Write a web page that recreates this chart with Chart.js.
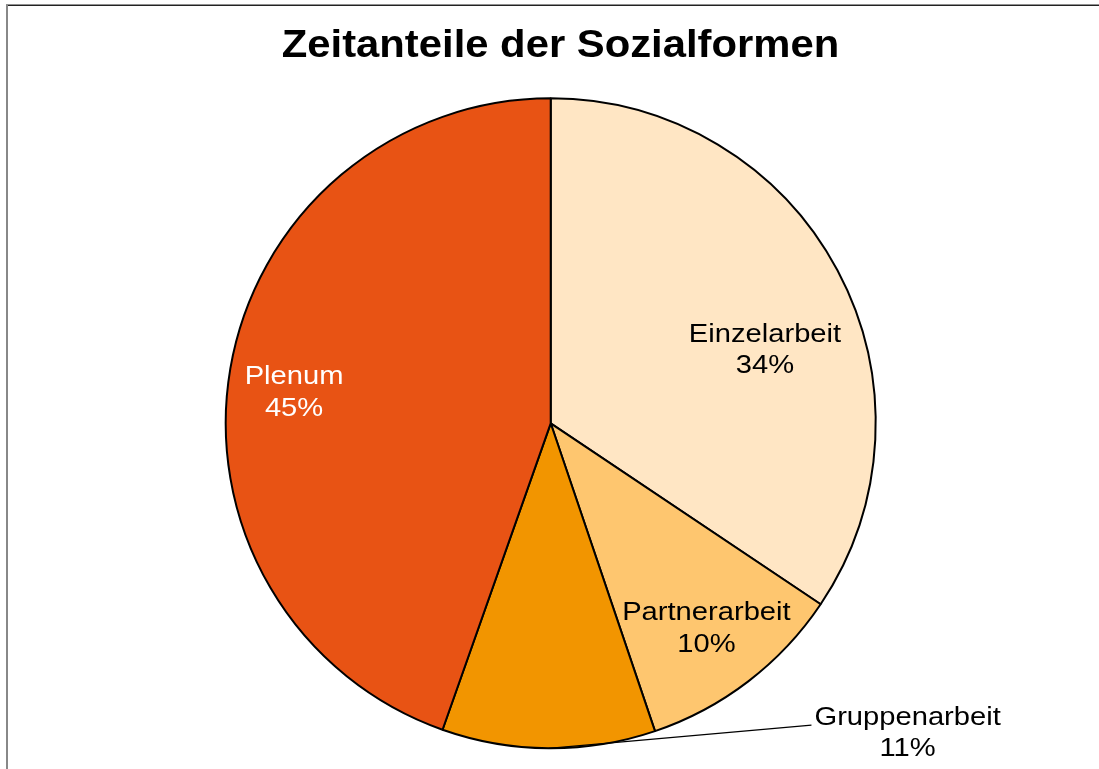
<!DOCTYPE html>
<html>
<head>
<meta charset="utf-8">
<script src="https://cdn.jsdelivr.net/npm/chart.js@4/dist/chart.umd.min.js"></script>
<style>
  html, body { margin: 0; padding: 0; background: #ffffff; }
  #wrap { width: 1099px; height: 769px; }
</style>
</head>
<body>
<div id="wrap"><canvas id="c" width="1099" height="769"></canvas></div>
<script>
// ---- data ----
const chartTitle = "Zeitanteile der Sozialformen";
const categories = ["Einzelarbeit", "Partnerarbeit", "Gruppenarbeit", "Plenum"];
const shares = [34.4, 10.4, 10.6, 44.6];

// ---- styles ----
const sliceColors = ["#FFE6C4", "#FEC66F", "#F29500", "#E85314"];
const labelColors = ["#000000", "#000000", "#000000", "#FFFFFF"];
// label placement relative to each slice: fraction of radius, angular shift (deg), leader line
const labelPlacement = [
  { r: 0.699, shift: 8.7, leader: false },
  { r: 0.788, shift: 0, leader: false },
  { r: 1.450, shift: -49.6, leader: true },
  { r: 0.796, shift: -2.5, leader: false }
];
const FONT = '"Liberation Sans", Arial, Helvetica, sans-serif';
const textStretch = 1.1;

const frame = {
  id: 'frame',
  beforeDraw(chart) {
    const ctx = chart.ctx;
    ctx.save();
    ctx.fillStyle = '#ffffff';
    ctx.fillRect(0, 0, chart.width, chart.height);
    ctx.fillStyle = '#222222';
    ctx.fillRect(6, 4.5, chart.width - 6, 1.5);
    ctx.fillStyle = '#888888';
    ctx.fillRect(6, 5, 2, chart.height - 5);
    ctx.restore();
  }
};

function stretchedText(ctx, text, x, y, sx) {
  ctx.save();
  ctx.translate(x, y);
  ctx.scale(sx, 1);
  ctx.fillText(text, 0, 0);
  ctx.restore();
}

const labelsPlugin = {
  id: 'sliceLabels',
  afterDatasetsDraw(chart) {
    const ctx = chart.ctx;
    const meta = chart.getDatasetMeta(0);
    const data = chart.data.datasets[0].data;
    const total = data.reduce((a, b) => a + b, 0);
    // title
    ctx.save();
    ctx.fillStyle = '#000000';
    ctx.font = 'bold 38px ' + FONT;
    ctx.textAlign = 'center';
    ctx.textBaseline = 'alphabetic';
    stretchedText(ctx, chartTitle, 560.5, 57.3, textStretch);
    ctx.restore();

    const size = 26.5;
    const cap = 0.716 * size;
    const lineGap = 31.6;
    meta.data.forEach((arc, i) => {
      const p = arc.getProps(['x', 'y', 'startAngle', 'endAngle', 'outerRadius'], true);
      const mid = (p.startAngle + p.endAngle) / 2;
      const pl = labelPlacement[i];
      const ang = mid + pl.shift * Math.PI / 180;
      const cx = p.x + Math.cos(ang) * p.outerRadius * pl.r;
      const cy = p.y + Math.sin(ang) * p.outerRadius * pl.r;
      const pct = Math.round(data[i] / total * 100) + '%';
      const line1 = chart.data.labels[i];
      const block = cap + lineGap;
      const b1 = cy - block / 2 + cap;
      const b2 = cy + block / 2;
      ctx.save();
      ctx.font = size + 'px ' + FONT;
      ctx.textAlign = 'center';
      ctx.textBaseline = 'alphabetic';
      ctx.fillStyle = labelColors[i];
      if (pl.leader) {
        const w = ctx.measureText(line1).width * textStretch;
        const sx = p.x + Math.cos(mid) * p.outerRadius;
        const sy = p.y + Math.sin(mid) * p.outerRadius;
        ctx.strokeStyle = '#000000';
        ctx.lineWidth = 1.2;
        ctx.beginPath();
        ctx.moveTo(sx, sy);
        ctx.lineTo(cx - w / 2 - 3, b1 + 0.5);
        ctx.stroke();
      }
      stretchedText(ctx, line1, cx, b1, textStretch);
      stretchedText(ctx, pct, cx, b2, textStretch);
      ctx.restore();
    });
  }
};

new Chart(document.getElementById('c'), {
  type: 'pie',
  data: {
    labels: categories,
    datasets: [{
      data: shares,
      backgroundColor: sliceColors,
      borderColor: '#000000',
      borderWidth: 2,
      radius: 325
    }]
  },
  options: {
    responsive: false,
    devicePixelRatio: 1,
    animation: false,
    layout: { padding: { top: 77.6, left: 2.4, right: 0, bottom: 0 } },
    plugins: {
      legend: { display: false },
      title: { display: false },
      tooltip: { enabled: false }
    }
  },
  plugins: [frame, labelsPlugin]
});
</script>
</body>
</html>
